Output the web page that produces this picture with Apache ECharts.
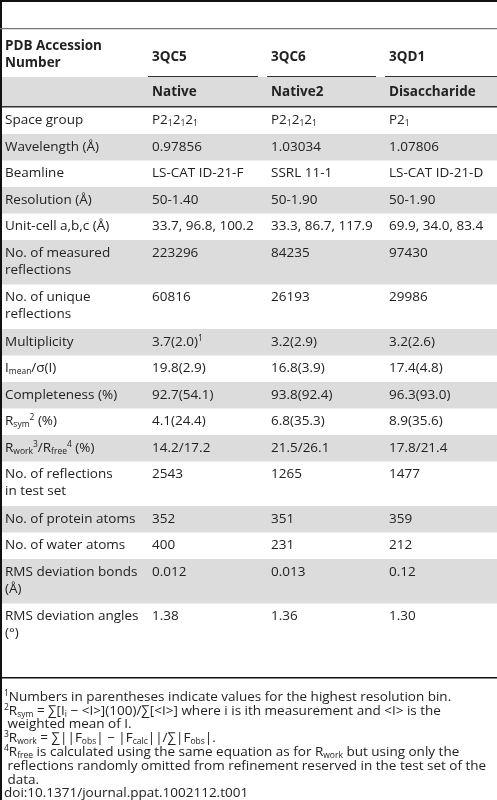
<!DOCTYPE html>
<html><head><meta charset="utf-8">
<script src="https://cdn.jsdelivr.net/npm/echarts@6/dist/echarts.min.js"></script>
<style>html,body{margin:0;padding:0;background:#fff}#c{width:497px;height:800px}</style>
</head><body><div id="c"></div>
<script>
const colHeaders = ["3QC5", "3QC6", "3QD1"];
const subHeaders = ["Native", "Native2", "Disaccharide"];
const rowLabels = [
  ["Space group"], ["Wavelength (Å)"], ["Beamline"], ["Resolution (Å)"], ["Unit-cell a,b,c (Å)"],
  ["No. of measured", "reflections"], ["No. of unique", "reflections"], ["Multiplicity"],
  ["I{s|mean}/σ(I)"], ["Completeness (%)"], ["R{s|sym}{u|2} (%)"], ["R{s|work}{u|3}/R{s|free}{u|4} (%)"],
  ["No. of reflections", "in test set"], ["No. of protein atoms"], ["No. of water atoms"],
  ["RMS deviation bonds", "(Å)"], ["RMS deviation angles", "(°)"]
];
const col3QC5 = ["P2{s|1}2{s|1}2{s|1}", "0.97856", "LS-CAT ID-21-F", "50-1.40", "33.7, 96.8, 100.2", "223296", "60816", "3.7(2.0){u|1}", "19.8(2.9)", "92.7(54.1)", "4.1(24.4)", "14.2/17.2", "2543", "352", "400", "0.012", "1.38"];
const col3QC6 = ["P2{s|1}2{s|1}2{s|1}", "1.03034", "SSRL 11-1", "50-1.90", "33.3, 86.7, 117.9", "84235", "26193", "3.2(2.9)", "16.8(3.9)", "93.8(92.4)", "6.8(35.3)", "21.5/26.1", "1265", "351", "231", "0.013", "1.36"];
const col3QD1 = ["P2{s|1}", "1.07806", "LS-CAT ID-21-D", "50-1.90", "69.9, 34.0, 83.4", "97430", "29986", "3.2(2.6)", "17.4(4.8)", "96.3(93.0)", "8.9(35.6)", "17.8/21.4", "1477", "359", "212", "0.12", "1.30"];
const footnotes = [
  "{u|1}Numbers in parentheses indicate values for the highest resolution bin.",
  "{u|2}R{s|sym} = ∑[I{s|i} − <I>](100)/∑[<I>] where i is ith measurement and <I> is the",
  " weighted mean of I.",
  "{u|3}R{s|work} = ∑||F{s|obs}| − |F{s|calc}||/∑|F{s|obs}|.",
  "{u|4}R{s|free} is calculated using the same equation as for R{s|work} but using only the",
  " reflections randomly omitted from refinement reserved in the test set of the",
  " data.",
  "doi:10.1371/journal.ppat.1002112.t001"
];

const FONT = '"Open Sans", sans-serif';
const FS = 13.5, LH = 17;
const colX = [5, 152, 271, 389];
const rich = {
  s: {fontSize: 8.5, fontFamily: FONT, fill: '#222', padding: [7, 0, 0, 0]},
  u: {fontSize: 8.5, fontFamily: FONT, fill: '#222', padding: [0, 0, 7, 0]}
};
function txt(x, y, s, bold) {
  return {type: 'text', x: x, y: y, style: {text: s, fontFamily: FONT, fontSize: FS,
    fontWeight: bold ? 'bold' : 'normal', fill: '#222', verticalAlign: 'middle', rich: rich}};
}
const els = [];
els.push({type: 'rect', shape: {x: 0, y: 0, width: 497, height: 2}, style: {fill: '#111'}});
els.push({type: 'rect', shape: {x: 0, y: 0, width: 2, height: 800}, style: {fill: '#111'}});
els.push({type: 'rect', shape: {x: 0, y: 28, width: 497, height: 1.2}, style: {fill: '#777'}});
els.push(txt(colX[0], 46, "PDB Accession", true));
els.push(txt(colX[0], 63, "Number", true));
const ulEnd = [258, 376, 497];
colHeaders.forEach((h, i) => {
  els.push(txt(colX[i + 1], 57, h, true));
  els.push({type: 'rect', shape: {x: colX[i + 1] - 4, y: 76, width: ulEnd[i] - colX[i + 1] + 4, height: 1.2}, style: {fill: '#333'}});
});
els.push({type: 'rect', shape: {x: 2, y: 77, width: 495, height: 30}, style: {fill: '#dcdcdc'}});
subHeaders.forEach((h, i) => els.push(txt(colX[i + 1], 92, h, true)));
els.push({type: 'rect', shape: {x: 2, y: 106, width: 495, height: 1.5}, style: {fill: '#333'}});
let y = 107.5;
const cols = [col3QC5, col3QC6, col3QD1];
rowLabels.forEach((lab, r) => {
  const h = lab.length === 1 ? 26.5 : 44.5;
  if (r % 2 === 1) els.push({type: 'rect', shape: {x: 2, y: y, width: 495, height: h}, style: {fill: '#dcdcdc'}});
  const ty = y + 13;
  lab.forEach((l, k) => els.push(txt(colX[0], ty + k * LH, l)));
  cols.forEach((c, i) => els.push(txt(colX[i + 1], ty, c[r])));
  y += h;
});
els.push({type: 'rect', shape: {x: 2, y: 677, width: 495, height: 1.5}, style: {fill: '#111'}});
footnotes.forEach((f, i) => els.push(txt(colX[0] - 1, 697 + i * 13.8, f)));

const chart = echarts.init(document.getElementById('c'), null, {renderer: 'canvas'});
chart.setOption({animation: false, graphic: {elements: els}});
</script></body></html>
